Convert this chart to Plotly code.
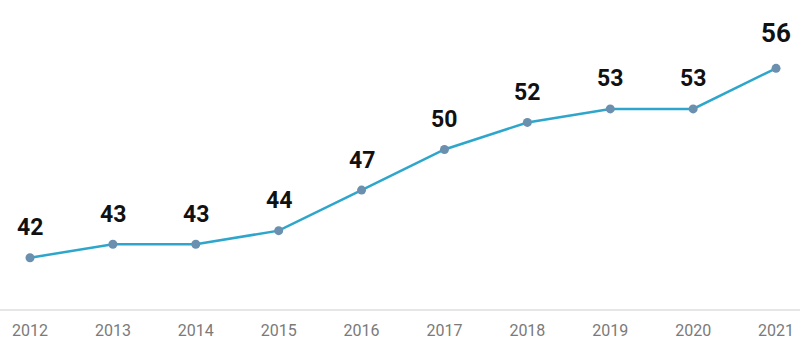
import plotly.graph_objects as go

years = [2012, 2013, 2014, 2015, 2016, 2017, 2018, 2019, 2020, 2021]
values = [42, 43, 43, 44, 47, 50, 52, 53, 53, 56]
tick_labels = [str(y) for y in years]

fig = go.Figure()
fig.add_trace(go.Scatter(
    x=years, y=values, mode="lines+markers",
    line=dict(color="#2ea6cc", width=2.5),
    marker=dict(color="#6b8fae", size=9),
    hoverinfo="skip", showlegend=False,
))

label_font = "Roboto, sans-serif"
for i, (x, v) in enumerate(zip(years, values)):
    last = i == len(years) - 1
    fig.add_annotation(
        x=x, y=v, text=f"<b>{v}</b>", showarrow=False,
        yshift=35 if last else 30,
        font=dict(family=label_font, size=26 if last else 23, color="#111111"),
    )

fig.update_layout(
    width=800, height=340,
    margin=dict(l=0, r=0, t=0, b=31),
    paper_bgcolor="white", plot_bgcolor="white",
    xaxis=dict(
        range=[2011.638, 2021.289], tickmode="array", tickvals=years, ticktext=tick_labels,
        showgrid=False, zeroline=False, showline=True, linecolor="#e6e6e6", linewidth=1.5,
        ticks="outside", ticklen=6, tickcolor="rgba(0,0,0,0)",
        tickfont=dict(family=label_font, size=16, color="#7a7a7a"),
    ),
    yaxis=dict(range=[38.21, 61.05], visible=False, showgrid=False, zeroline=False),
)

fig.write_html("out.html")
